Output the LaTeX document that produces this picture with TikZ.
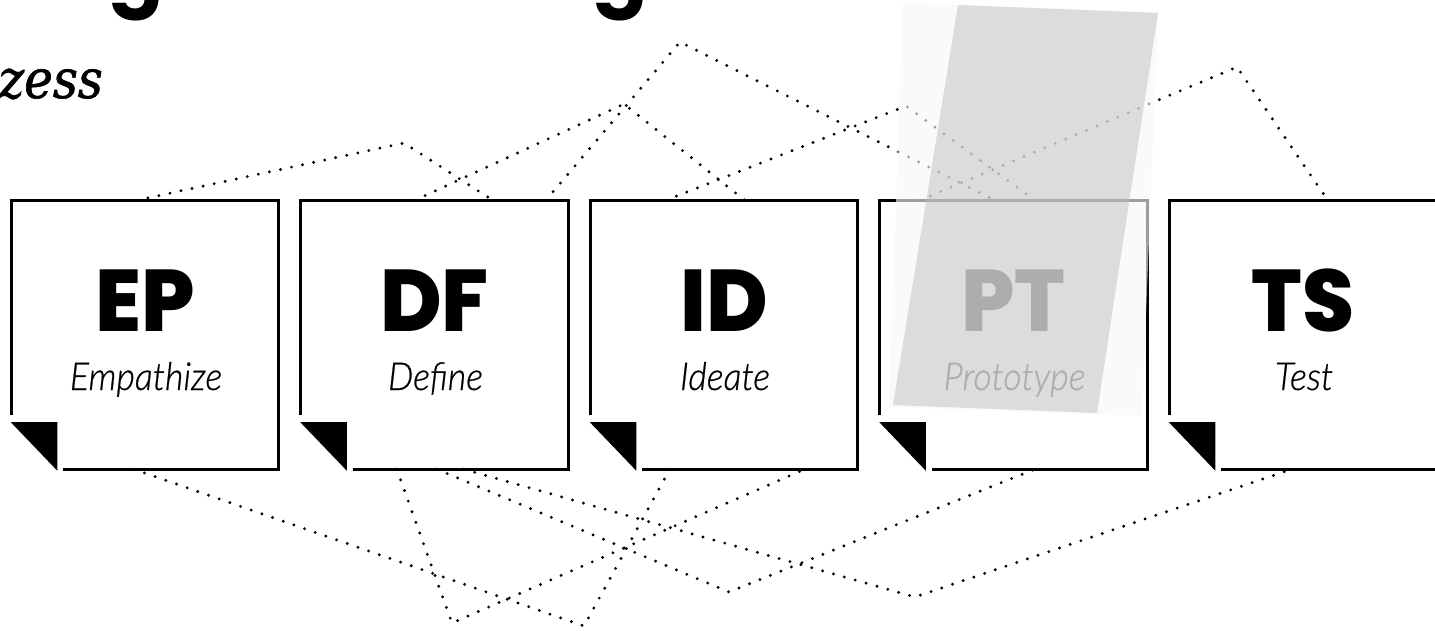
\documentclass[tikz,border=0pt]{standalone}
\usepackage{fontspec}
\newfontfamily\popfont{Poppins}[BoldFont={* ExtraBold}, FakeStretch=0.96]
\newfontfamily\titlefont{Poppins}
\newfontfamily\latofont{Lato}[UprightFont={* Light}, ItalicFont={* Light Italic}, FakeStretch=0.93, FakeBold=0.6]
\newfontfamily\serfont{DejaVu Serif}[FakeStretch=0.9, FakeBold=1.2]
\definecolor{tapegray}{gray}{0.745}
\definecolor{tapelight}{gray}{0.97}
\tikzset{
  boxnode/.style={minimum width=267pt, minimum height=268.5pt, inner sep=0pt, draw=none},
  boxline/.style={line width=3pt, line cap=butt, line join=miter},
  dotline/.style={line width=3.2pt, line cap=round, dash pattern=on 0pt off 11.3pt},
  bigtxt/.style={anchor=base, inner sep=0pt, font=\popfont\bfseries\fontsize{87.5}{87.5}\selectfont},
  subtxt/.style={anchor=base, inner sep=0pt, font=\latofont\itshape\fontsize{38.5}{38.5}\selectfont},
  titletxt/.style={anchor=base east, inner sep=0pt, font=\titlefont\bfseries\fontsize{82}{82}\selectfont},
  prozesstxt/.style={anchor=base east, inner sep=0pt, font=\serfont\itshape\fontsize{54}{54}\selectfont}
}
\begin{document}
\begin{tikzpicture}[x=1pt,y=-1pt]
\useasboundingbox (0,0) rectangle (1435,631);
\clip (0,0) rectangle (1435,631);

% title (only its lower edge is inside the picture)
\node[titletxt] (tdesign) at (220,-1) {Design};
\node[titletxt] (tthink) at (648,-1) {Thinking};
\node[prozesstxt] (tproz) at (103,98) {Prozess};

% boxes
\foreach \n/\i in {ep/0,df/1,id/2,pt/3,ts/4} {
  \node[boxnode] (\n) at (145+289.5*\i, 334.75) {};
}

% peaks / valleys
\coordinate (pA) at (404,143);
\coordinate (pB) at (624,104);
\coordinate (pE) at (680,42);
\coordinate (pC) at (906,106);
\coordinate (pD) at (1237,67);
\coordinate (vF) at (584,626);
\coordinate (vG) at (452,623);
\coordinate (vH) at (729,592);
\coordinate (vI) at (915,597);

% dotted connectors, top
\draw[dotline] ([xshift=125.5pt]ep.north west) -- (pA) -- ([xshift=192pt]df.north west);
\draw[dotline] ([xshift=114pt]df.north west) -- (pB) -- ([xshift=154.5pt]id.north west);
\draw[dotline] ([xshift=245pt]df.north west) -- (pE) -- ([xshift=115pt]pt.north west);
\draw[dotline] ([xshift=75.5pt]id.north west) -- (pC) -- ([xshift=155pt]pt.north west);
\draw[dotline] ([xshift=40pt]pt.north west) -- (pD) -- ([xshift=158.5pt]ts.north west);
% dotted connectors, bottom
\draw[dotline] ([xshift=122.5pt]ep.south west) -- (vF) -- ([xshift=79.5pt]id.south west);
\draw[dotline] ([xshift=96pt]df.south west) -- (vG) -- ([xshift=214.5pt]id.south west);
\draw[dotline] ([xshift=136pt]df.south west) -- (vH) -- ([xshift=155pt]pt.south west);
\draw[dotline] ([xshift=163pt]df.south west) -- (vI) -- ([xshift=122.5pt]ts.south west);

% box outlines
\foreach \n in {ep,df,id,pt,ts} {
  \draw[boxline] ([yshift=-215pt]\n.north west) -- (\n.north west) -- (\n.north east)
     -- (\n.south east) -- ([xshift=52pt]\n.south west);
  \fill ([xshift=-0.5pt,yshift=47pt]\n.south west) -- ([xshift=46pt,yshift=47pt]\n.south west)
     -- ([xshift=46pt,yshift=-1.5pt]\n.south west) -- cycle;
}

% texts
\node[bigtxt] (epA) at (145,331.7) {EP};
\node[subtxt] (epB) at (146,390) {Empathize};
\node[bigtxt] (dfA) at (434.5,331.7) {DF};
\node[subtxt] (dfB) at (435.5,390) {Define};
\node[bigtxt] (idA) at (724,331.7) {ID};
\node[subtxt] (idB) at (725,390) {Ideate};
\node[bigtxt] (ptA) at (1013.5,331.7) {PT};
\node[subtxt] (ptB) at (1014.5,390) {Prototype};
\node[bigtxt] (tsA) at (1303,331.7) {TS};
\node[subtxt] (tsB) at (1304,390) {Test};

% translucent tape over PT
\fill[tapelight, opacity=0.64] (903,3) -- (1158,12) -- (1142,416) -- (889,407) -- cycle;
\fill[tapegray, opacity=0.5] (958,5) -- (1158,13) -- (1097,413) -- (893,405) -- cycle;
\end{tikzpicture}
\end{document}
